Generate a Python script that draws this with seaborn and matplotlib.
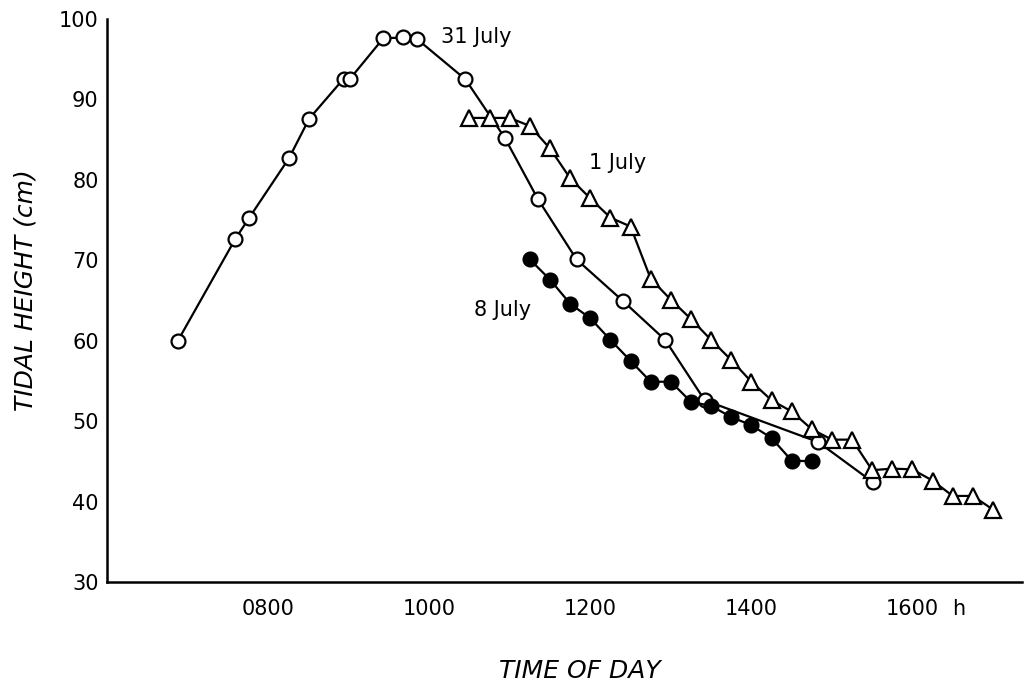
import matplotlib
matplotlib.use("Agg")
import matplotlib.pyplot as plt
import seaborn as sns
import pandas as pd

# ---- data (time in decimal hours, tidal height in cm) ----
jul31_time = [6.88, 7.59, 7.76, 8.26, 8.51, 8.94, 9.02, 9.43, 9.68, 9.85,
              10.45, 10.94, 11.35, 11.83, 12.41, 12.93, 13.42, 14.83, 15.51]
jul31_height = [60.0, 72.6, 75.2, 82.7, 87.6, 92.6, 92.6, 97.6, 97.7, 97.5,
                92.5, 85.2, 77.6, 70.1, 64.9, 60.1, 52.6, 47.4, 42.4]

jul1_time = [10.50, 10.75, 11.00, 11.25, 11.50, 11.75, 12.00, 12.25, 12.50,
             12.75, 13.00, 13.25, 13.50, 13.75, 14.00, 14.25, 14.50, 14.75,
             15.00, 15.25, 15.50, 15.75, 16.00, 16.25, 16.50, 16.75, 17.00]
jul1_height = [87.7, 87.7, 87.7, 86.7, 83.9, 80.2, 77.7, 75.3, 74.2,
               67.7, 65.1, 62.7, 60.1, 57.6, 54.9, 52.6, 51.2, 49.0,
               47.7, 47.7, 43.9, 44.1, 44.0, 42.6, 40.7, 40.7, 39.0]

jul8_time = [11.25, 11.50, 11.75, 12.00, 12.25, 12.50, 12.75, 13.00,
             13.25, 13.50, 13.75, 14.00, 14.25, 14.50, 14.75]
jul8_height = [70.1, 67.6, 64.6, 62.8, 60.1, 57.5, 54.9, 54.9,
               52.4, 51.9, 50.5, 49.5, 47.9, 45.1, 45.0]

x_ticks = [7, 8, 9, 10, 11, 12, 13, 14, 15, 16, 17]
x_ticklabels = ["", "0800", "", "1000", "", "1200", "", "1400", "", "1600", ""]
y_ticks = [30, 40, 50, 60, 70, 80, 90, 100]

series_labels = ["31 July", "1 July", "8 July"]

# ---- style ----
sns.set_style("white")
plt.rcParams["font.family"] = ["DejaVu Sans"]
plt.rcParams["text.color"] = "black"
plt.rcParams["axes.labelcolor"] = "black"

fig = plt.figure(figsize=(10.24, 6.88), dpi=100)
ax = fig.add_axes([107 / 1024, 1 - 582 / 688, 915 / 1024, 563 / 688])

lw = 1.6
common = dict(color="black", linewidth=lw, markeredgecolor="black",
              markeredgewidth=1.6, estimator=None, sort=False, ax=ax)

df31 = pd.DataFrame({"time": jul31_time, "height": jul31_height})
df1 = pd.DataFrame({"time": jul1_time, "height": jul1_height})
df8 = pd.DataFrame({"time": jul8_time, "height": jul8_height})

sns.lineplot(data=df31, x="time", y="height", marker="o", markersize=10,
             markerfacecolor="white", zorder=2, **common)
sns.lineplot(data=df1, x="time", y="height", marker="^", markersize=11.5,
             markerfacecolor="white", zorder=3, **common)
sns.lineplot(data=df8, x="time", y="height", marker="o", markersize=10,
             markerfacecolor="black", zorder=4, **common)

# ---- axes ----
ax.set_xlim(6, 17.36)
ax.set_ylim(30, 100)
ax.set_xticks(x_ticks)
ax.set_xticklabels(x_ticklabels)
ax.set_yticks(y_ticks)
ax.set_yticklabels([str(v) for v in y_ticks])

for side in ["top", "right"]:
    ax.spines[side].set_visible(False)
for side in ["left", "bottom"]:
    ax.spines[side].set_linewidth(1.8)
    ax.spines[side].set_color("black")

ax.tick_params(axis="x", direction="in", length=9, width=1.8,
               labelsize=15, pad=12, colors="black")
ax.tick_params(axis="y", direction="in", length=9, width=1.8,
               labelsize=15, pad=6, colors="black")

# "h" unit after the 1600 label
ax.text(16.58, -12 / 72 * 100 / 563, "h", transform=ax.get_xaxis_transform(),
        ha="center", va="top", fontsize=15, color="black")

ax.set_xlabel("TIME OF DAY", fontsize=18, fontstyle="italic", color="black")
ax.xaxis.set_label_coords(0.517, -0.158)
ax.xaxis.label.set_va("center")
ax.set_ylabel("TIDAL HEIGHT (cm)", fontsize=18, fontstyle="italic",
              color="black")
ax.yaxis.set_label_coords(-0.0896, 0.519)
ax.yaxis.label.set_va("center")

# series annotations
ax.text(10.15, 97.8, series_labels[0], fontsize=15, ha="left", va="center",
        color="black")
ax.text(11.98, 82.1, series_labels[1], fontsize=15, ha="left", va="center",
        color="black")
ax.text(10.56, 63.8, series_labels[2], fontsize=15, ha="left", va="center",
        color="black")

ax.grid(False)
fig.savefig("out.png", dpi=100, facecolor="white")
